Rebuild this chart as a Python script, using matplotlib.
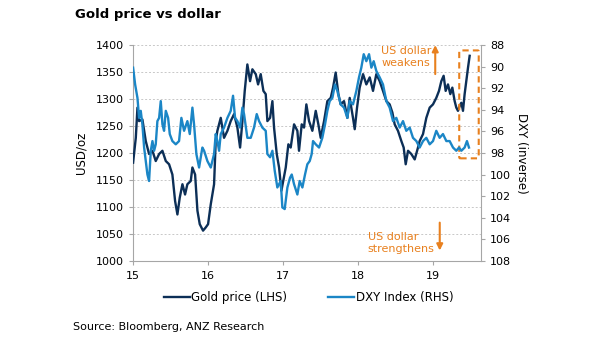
import matplotlib
matplotlib.use("Agg")
import matplotlib.pyplot as plt
from matplotlib.patches import FancyBboxPatch

plt.rcParams['font.family'] = ['DejaVu Sans']

# Gold price, USD/oz (time in years, label 15 = 2015)
gold_t = [15.000, 15.036, 15.058, 15.080, 15.124, 15.169, 15.213, 15.258, 15.302, 15.347,
          15.391, 15.436, 15.480, 15.524, 15.560, 15.591, 15.622, 15.658, 15.693, 15.724,
          15.769, 15.791, 15.827, 15.858, 15.889, 15.933, 15.969, 16.000, 16.036, 16.080,
          16.102, 16.124, 16.169, 16.213, 16.258, 16.302, 16.347, 16.391, 16.427, 16.458,
          16.489, 16.524, 16.560, 16.591, 16.636, 16.667, 16.702, 16.738, 16.769, 16.791,
          16.827, 16.858, 16.880, 16.916, 16.947, 16.978, 17.036, 17.071, 17.102, 17.147,
          17.191, 17.213, 17.249, 17.280, 17.311, 17.347, 17.391, 17.436, 17.471, 17.502,
          17.547, 17.591, 17.636, 17.667, 17.702, 17.738, 17.769, 17.813, 17.858, 17.889,
          17.933, 17.956, 17.987, 18.022, 18.067, 18.111, 18.156, 18.200, 18.244, 18.289,
          18.333, 18.378, 18.422, 18.458, 18.489, 18.533, 18.578, 18.609, 18.636, 18.667,
          18.711, 18.756, 18.800, 18.822, 18.867, 18.911, 18.956, 19.000, 19.044, 19.080,
          19.111, 19.142, 19.169, 19.200, 19.231, 19.258, 19.289, 19.311, 19.333, 19.356,
          19.378, 19.400, 19.422, 19.444, 19.467, 19.489]
gold = [1182, 1228, 1284, 1259, 1262, 1222, 1198, 1204, 1185, 1198,
        1204, 1185, 1179, 1160, 1111, 1086, 1117, 1142, 1123, 1142,
        1148, 1173, 1160, 1093, 1068, 1056, 1062, 1068, 1105, 1142,
        1222, 1241, 1265, 1228, 1241, 1259, 1272, 1247, 1210, 1259,
        1315, 1364, 1333, 1355, 1346, 1327, 1346, 1315, 1309, 1259,
        1265, 1296, 1247, 1198, 1173, 1130, 1173, 1216, 1210, 1253,
        1241, 1204, 1253, 1247, 1290, 1259, 1241, 1278, 1253, 1228,
        1259, 1296, 1302, 1321, 1349, 1309, 1290, 1296, 1265, 1302,
        1265, 1244, 1284, 1321, 1346, 1327, 1340, 1315, 1346, 1333,
        1315, 1296, 1290, 1275, 1253, 1241, 1222, 1210, 1179, 1204,
        1198, 1188, 1210, 1222, 1235, 1265, 1284, 1290, 1302, 1315,
        1333, 1343, 1315, 1327, 1309, 1321, 1296, 1284, 1278, 1287,
        1293, 1278, 1309, 1333, 1358, 1380]

# DXY index (plotted on inverted right axis)
dxy_t = [15.000, 15.027, 15.058, 15.080, 15.102, 15.124, 15.147, 15.169, 15.191, 15.213,
         15.236, 15.258, 15.280, 15.302, 15.324, 15.347, 15.369, 15.391, 15.413, 15.436,
         15.467, 15.489, 15.524, 15.569, 15.613, 15.644, 15.680, 15.724, 15.756, 15.791,
         15.813, 15.844, 15.880, 15.924, 15.947, 15.991, 16.036, 16.080, 16.102, 16.124,
         16.147, 16.169, 16.213, 16.258, 16.302, 16.333, 16.360, 16.391, 16.427, 16.458,
         16.480, 16.524, 16.569, 16.613, 16.649, 16.680, 16.724, 16.769, 16.791, 16.827,
         16.858, 16.889, 16.924, 16.969, 16.991, 17.022, 17.058, 17.093, 17.116, 17.147,
         17.191, 17.222, 17.258, 17.293, 17.324, 17.356, 17.382, 17.400, 17.436, 17.480,
         17.524, 17.560, 17.591, 17.622, 17.658, 17.693, 17.724, 17.769, 17.813, 17.858,
         17.889, 17.933, 17.978, 18.013, 18.044, 18.076, 18.111, 18.147, 18.178, 18.209,
         18.244, 18.289, 18.333, 18.378, 18.422, 18.467, 18.511, 18.556, 18.600, 18.644,
         18.689, 18.733, 18.778, 18.822, 18.867, 18.911, 18.956, 19.000, 19.044, 19.089,
         19.133, 19.178, 19.222, 19.267, 19.311, 19.347, 19.378, 19.422, 19.453, 19.480]
dxy = [90.10, 91.65, 92.90, 94.75, 94.10, 95.35, 97.50, 98.75, 100.0, 100.6,
       97.80, 96.90, 97.80, 97.20, 95.05, 94.75, 93.20, 95.35, 95.95, 94.10,
       94.75, 96.25, 96.90, 97.20, 96.90, 94.75, 95.95, 95.05, 96.25, 93.80,
       95.35, 98.10, 99.35, 97.50, 97.80, 98.75, 99.35, 98.10, 96.25, 96.90,
       97.80, 96.25, 95.65, 94.75, 94.10, 92.70, 94.75, 95.05, 95.65, 93.80,
       94.40, 96.60, 96.60, 95.65, 94.40, 95.05, 95.65, 95.95, 98.10, 98.40,
       97.80, 99.65, 101.2, 100.6, 103.05, 103.2, 101.2, 100.3, 100.0, 100.9,
       101.85, 100.6, 101.2, 100.0, 99.05, 98.75, 98.10, 96.90, 97.20, 97.50,
       96.60, 95.35, 94.10, 93.20, 92.90, 91.65, 92.25, 93.50, 93.80, 94.75,
       93.20, 93.50, 92.25, 91.00, 90.10, 88.85, 89.50, 88.85, 90.10, 89.50,
       90.40, 91.00, 91.65, 93.20, 93.80, 95.05, 94.75, 95.65, 95.05, 95.95,
       95.65, 96.60, 96.90, 97.50, 96.90, 96.60, 97.20, 96.90, 95.95, 96.60,
       96.25, 96.90, 96.90, 97.50, 97.80, 97.50, 97.80, 97.50, 96.90, 97.50]

year_ticks = [15, 16, 17, 18, 19]
gold_ticks = [1000, 1050, 1100, 1150, 1200, 1250, 1300, 1350, 1400]
dxy_ticks = [88, 90, 92, 94, 96, 98, 100, 102, 104, 106, 108]

navy = '#0c2f57'
blue = '#1b86c6'
orange = '#e8801e'
grey = '#a6a6a6'

fig = plt.figure(figsize=(6.05, 3.41), dpi=100)
ax = fig.add_axes([0.22, 0.235, 0.575, 0.633])
ax2 = ax.twinx()

ax.plot(gold_t, gold, color=navy, lw=1.7, label='Gold price (LHS)', zorder=3)
ax2.plot(dxy_t, dxy, color=blue, lw=1.7, label='DXY Index (RHS)', zorder=2)

ax.set_xlim(15, 19.64)
ax.set_ylim(1000, 1400)
ax2.set_ylim(108, 88)
ax.set_xticks(year_ticks)
ax.set_xticklabels([str(y) for y in year_ticks])
ax.set_yticks(gold_ticks)
ax2.set_yticks(dxy_ticks)

ax.grid(axis='y', linestyle=(0, (2, 2)), color='#c8c8c8', lw=0.7)
ax.set_axisbelow(True)

for a in (ax, ax2):
    a.spines['top'].set_visible(False)
    for side in ('left', 'right', 'bottom'):
        a.spines[side].set_color(grey)
    a.tick_params(colors=grey, labelcolor='black', labelsize=8, length=3)
ax.spines['right'].set_visible(False)
ax2.spines['left'].set_visible(False)
ax2.spines['bottom'].set_visible(False)
ax.tick_params(axis='x', pad=4)

ax.set_ylabel('USD/oz', fontsize=8.5, labelpad=6)
ax2.set_ylabel('DXY (inverse)', fontsize=8.5, rotation=270, labelpad=12)

# Annotations
ax.text(18.64, 1378, 'US dollar\nweakens', color=orange, fontsize=8,
        ha='center', va='center', linespacing=1.2)
ax.annotate('', xy=(19.03, 1405), xytext=(19.03, 1341),
            arrowprops=dict(arrowstyle='-|>', color=orange, lw=1.5,
                            mutation_scale=9), annotation_clip=False)
ax.text(18.13, 1033, 'US dollar\nstrengthens', color=orange, fontsize=8,
        ha='left', va='center', linespacing=1.2)
ax.annotate('', xy=(19.09, 1014), xytext=(19.09, 1076),
            arrowprops=dict(arrowstyle='-|>', color=orange, lw=1.5,
                            mutation_scale=9))
box = FancyBboxPatch((19.35, 1190), 0.26, 200,
                     boxstyle='round,pad=0,rounding_size=0.015',
                     fill=False, ec=orange, lw=1.5, ls=(0, (3, 2)),
                     mutation_aspect=400 / 4.64 * 0.575 / 0.633 * 1.8,
                     zorder=5, clip_on=False)
ax.add_patch(box)

h1, l1 = ax.get_legend_handles_labels()
h2, l2 = ax2.get_legend_handles_labels()
fig.legend(h1 + h2, l1 + l2, loc='center', bbox_to_anchor=(0.51, 0.128),
           ncol=2, frameon=False, fontsize=8.5, handlelength=2.2,
           handletextpad=0.1, columnspacing=3.5)

fig.text(0.124, 0.958, 'Gold price vs dollar', fontsize=9.5, fontweight='bold',
         va='center', ha='left')
fig.text(0.12, 0.04, 'Source: Bloomberg, ANZ Research', fontsize=8,
         va='center', ha='left')

fig.savefig('out.png', dpi=100)
